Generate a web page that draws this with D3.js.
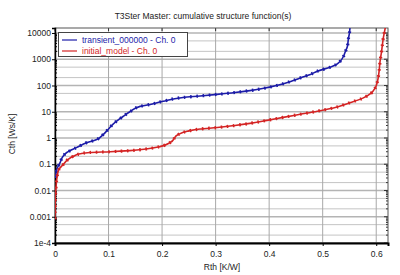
<!DOCTYPE html>
<html>
<head>
<meta charset="utf-8">
<script src="https://cdn.jsdelivr.net/npm/d3@7"></script>
<style>
  body { margin: 0; background: #fff; }
  svg { font-family: "Liberation Sans", Arial, sans-serif; }
</style>
</head>
<body>
<svg width="400" height="275"></svg>
<script>
// curve data
const blueRth = [0.001, 0.002, 0.004, 0.009, 0.015, 0.022, 0.04, 0.06, 0.078, 0.09, 0.1, 0.108, 0.12, 0.127, 0.14, 0.159, 0.178, 0.202, 0.239, 0.271, 0.303, 0.336, 0.364, 0.39, 0.414, 0.439, 0.458, 0.477, 0.49, 0.514, 0.525, 0.533, 0.539, 0.542, 0.546, 0.548, 0.55, 0.551];
const blueCth = [0.03, 0.05, 0.07, 0.11, 0.2, 0.28, 0.43, 0.67, 0.88, 1.35, 2.2, 3.3, 5.2, 6.6, 10, 16, 19, 25, 35, 40, 46, 54, 64, 78, 100, 140, 195, 265, 350, 500, 620, 850, 1300, 1900, 3000, 6000, 10000, 16000];
const redRth = [0.0, 0.0005, 0.002, 0.004, 0.007, 0.015, 0.024, 0.034, 0.047, 0.065, 0.103, 0.14, 0.17, 0.196, 0.215, 0.23, 0.247, 0.271, 0.303, 0.336, 0.364, 0.396, 0.426, 0.458, 0.49, 0.52, 0.551, 0.575, 0.59, 0.598, 0.602, 0.605, 0.607, 0.61, 0.613, 0.617];
const redCth = [0.0008, 0.0044, 0.014, 0.034, 0.062, 0.096, 0.15, 0.2, 0.25, 0.28, 0.3, 0.33, 0.38, 0.47, 0.67, 1.35, 1.8, 2.2, 2.5, 3.0, 3.6, 4.7, 6.1, 8, 10.5, 14, 22, 33, 50, 80, 134, 300, 780, 2000, 6000, 16000];

const seriesNames = ["transient_000000 - Ch. 0", "initial_model - Ch. 0"];
const seriesColors = ["#1c1ca8", "#d42424"];
const xTicks = [0, 0.1, 0.2, 0.3, 0.4, 0.5, 0.6];
const yTicks = [1e-4, 1e-3, 1e-2, 0.1, 1, 10, 100, 1000, 10000];
const yTickLabels = ["1e-4", "0.001", "0.01", "0.1", "1", "10", "100", "1000", "10000"];

const W = 400, H = 275;
const m = {left: 55, top: 28, right: 12, bottom: 32};
const svg = d3.select("svg");

const x = d3.scaleLinear().domain([0, 0.622]).range([m.left, W - m.right]);
const y = d3.scaleLog().domain([1e-4, 1.55e4]).range([H - m.bottom, m.top]);

// title
svg.append("text").attr("x", 203).attr("y", 19)
  .attr("text-anchor", "middle").attr("font-size", 8.5).attr("fill", "#222")
  .text("T3Ster Master: cumulative structure function(s)");

// grid: 2 and 5 in every decade, plus the decades
const minor = [], minorTicks = [];
for (let e = -4; e < 5; e++) for (let k = 2; k <= 9; k++) {
  const v = k * Math.pow(10, e);
  if (v >= y.domain()[1]) continue;
  minorTicks.push(v);
  if (k === 2 || k === 5) minor.push(v);
}
svg.append("g").selectAll("line").data(minor).enter().append("line")
  .attr("x1", m.left).attr("x2", W - m.right)
  .attr("y1", d => y(d)).attr("y2", d => y(d))
  .attr("stroke", "#c4c4c4").attr("stroke-width", 1);
svg.append("g").selectAll("line").data(yTicks).enter().append("line")
  .attr("x1", m.left).attr("x2", W - m.right)
  .attr("y1", d => y(d)).attr("y2", d => y(d))
  .attr("stroke", "#b4b4b4").attr("stroke-width", 1.5);
svg.append("g").selectAll("line").data(xTicks.slice(1)).enter().append("line")
  .attr("x1", d => x(d)).attr("x2", d => x(d))
  .attr("y1", m.top).attr("y2", H - m.bottom)
  .attr("stroke", "#a8a8a8").attr("stroke-width", 1);

// right and top ticks
svg.append("g").selectAll("line").data(minorTicks.concat(yTicks)).enter().append("line")
  .attr("x1", W - m.right).attr("x2", d => W - m.right - (yTicks.includes(d) ? 4 : 2))
  .attr("y1", d => y(d)).attr("y2", d => y(d))
  .attr("stroke", "#333");
svg.append("g").selectAll("line").data(xTicks).enter().append("line")
  .attr("x1", d => x(d)).attr("x2", d => x(d))
  .attr("y1", m.top).attr("y2", m.top + 3)
  .attr("stroke", "#333");

// frame
svg.append("rect").attr("x", m.left).attr("y", m.top)
  .attr("width", W - m.left - m.right).attr("height", H - m.top - m.bottom)
  .attr("fill", "none").attr("stroke", "#555").attr("stroke-width", 1);

// axes
const xAxis = svg.append("g").attr("transform", `translate(0,${H - m.bottom})`)
  .call(d3.axisBottom(x).tickValues(xTicks).tickSize(3).tickFormat(d => d === 0 ? "0" : d3.format(".1f")(d)));
xAxis.select(".domain").attr("stroke", "#000").attr("stroke-width", 2);
xAxis.selectAll("text").attr("font-size", 8.5).attr("fill", "#222").attr("dy", "0.95em");

const yAxis = svg.append("g").attr("transform", `translate(${m.left},0)`)
  .call(d3.axisLeft(y).tickValues(yTicks).tickSize(3).tickFormat((d, i) => yTickLabels[i]));
yAxis.select(".domain").attr("stroke", "#000").attr("stroke-width", 1.5);
yAxis.selectAll("text").attr("font-size", 8.5).attr("fill", "#222").attr("x", -4);
svg.append("g").attr("transform", `translate(${m.left},0)`)
  .selectAll("line").data(minorTicks).enter().append("line")
  .attr("x1", 0).attr("x2", 2).attr("y1", d => y(d)).attr("y2", d => y(d)).attr("stroke", "#000");

// axis titles
svg.append("text").attr("x", 222).attr("y", 270).attr("text-anchor", "middle")
  .attr("font-size", 8.5).attr("fill", "#222").text("Rth  [K/W]");
svg.append("text").attr("transform", "translate(15,134) rotate(-90)").attr("text-anchor", "middle")
  .attr("font-size", 8.5).attr("fill", "#222").text("Cth  [Ws/K]");

// curves
svg.append("clipPath").attr("id", "plot").append("rect")
  .attr("x", m.left).attr("y", m.top).attr("width", W - m.left - m.right).attr("height", H - m.top - m.bottom);
const series = [
  blueRth.map((r, i) => [r, blueCth[i]]),
  redRth.map((r, i) => [r, redCth[i]])
];
const line = d3.line().x(d => x(d[0])).y(d => y(d[1])).curve(d3.curveMonotoneY);
const curves = svg.append("g").attr("clip-path", "url(#plot)");
series.forEach((s, i) => {
  curves.append("path").attr("d", line(s)).attr("fill", "none")
    .attr("stroke", seriesColors[i]).attr("stroke-width", 1.6);
  // marker look: short thick dashes along the curve
  curves.append("path").attr("d", line(s)).attr("fill", "none")
    .attr("stroke", seriesColors[i]).attr("stroke-width", 3.2)
    .attr("stroke-dasharray", "1.6,4.6");
});

// legend
const lg = svg.append("g");
lg.append("rect").attr("x", 58.5).attr("y", 32.5).attr("width", 129).attr("height", 24)
  .attr("fill", "#fff").attr("stroke", "#444");
seriesNames.forEach((n, i) => {
  const yy = 40 + i * 11;
  lg.append("line").attr("x1", 62).attr("x2", 77).attr("y1", yy).attr("y2", yy)
    .attr("stroke", seriesColors[i]).attr("stroke-width", 1.2);
  lg.append("text").attr("x", 82).attr("y", yy + 3).attr("font-size", 8.5)
    .attr("fill", seriesColors[i]).text(n);
});
</script>
</body>
</html>
